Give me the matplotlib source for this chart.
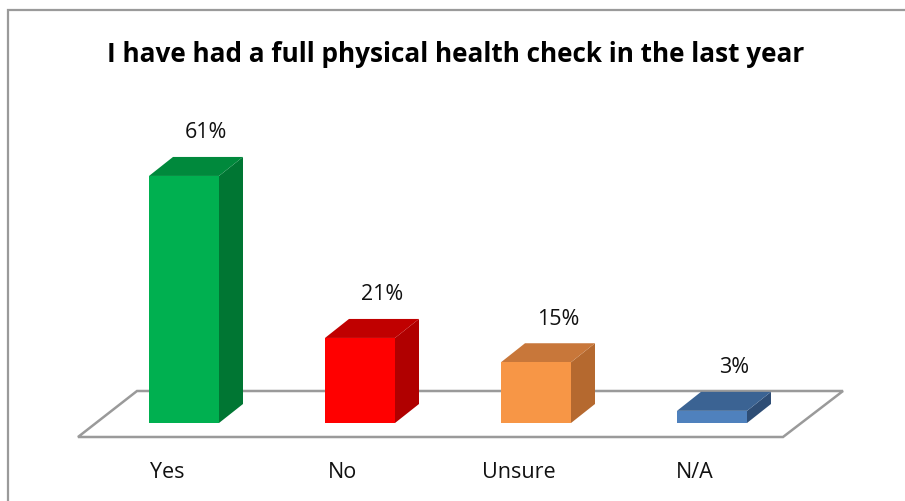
import matplotlib
matplotlib.use("Agg")
import matplotlib.pyplot as plt
from matplotlib.patches import Polygon, Rectangle

# --- Data ---
categories = ["Yes", "No", "Unsure", "N/A"]
values = [61, 21, 15, 3]
labels = ["61%", "21%", "15%", "3%"]

# --- Colours (front, side, top) ---
front_cols = ["#00B050", "#FF0000", "#F79646", "#4F81BD"]
side_cols = ["#007633", "#B00000", "#B5692F", "#2E4D75"]
top_cols = ["#00893C", "#C00000", "#C8773A", "#3B6393"]

# --- Layout in pixels ---
W, H = 905, 501
x0_px, step_px = 184, 176      # first category centre, spacing
base_px = 423                  # pixel row (from top) of value 0
px_per_pct = 4.05
half_w = 35
depth_dx, depth_dy = 24, 19

fig = plt.figure(figsize=(W / 100, H / 100), dpi=100)
ax = fig.add_axes([0, 0, 1, 1])
ax.set_xlim(-x0_px / step_px, (W - x0_px) / step_px)
ax.set_ylim(-(H - base_px) / px_per_pct, base_px / px_per_pct)
ax.axis("off")

def dx(px):
    return px / step_px

def dy(px):
    return px / px_per_pct

def px_x(p):
    return (p - x0_px) / step_px

def px_y(p):
    return (base_px - p) / px_per_pct

# floor
floor = [(px_x(78), px_y(437)), (px_x(783), px_y(437)),
         (px_x(843), px_y(391)), (px_x(137), px_y(391))]
ax.add_patch(Polygon(floor, closed=True, facecolor="white",
                     edgecolor="#9A9A9A", lw=1.8, zorder=1))

for i, (v, f, s, t) in enumerate(zip(values, front_cols, side_cols, top_cols)):
    l, r = i - dx(half_w), i + dx(half_w)
    ox, oy = dx(depth_dx), dy(depth_dy)
    side = [(r, 0), (r + ox, oy), (r + ox, v + oy), (r, v)]
    top = [(l, v), (r, v), (r + ox, v + oy), (l + ox, v + oy)]
    ax.add_patch(Polygon(side, closed=True, facecolor=s, edgecolor="none", zorder=3))
    ax.add_patch(Polygon(top, closed=True, facecolor=t, edgecolor="none", zorder=3))
    ax.add_patch(Rectangle((l, 0), r - l, v, facecolor=f, edgecolor="none", zorder=4))
    ax.text(i + dx(22), v + oy + dy(24), labels[i], ha="center", va="center",
            fontsize=15.5, family="Open Sans", color="#111111")
    ax.text(i - dx(17), px_y(472), categories[i], ha="center", va="center",
            fontsize=15.5, family="Open Sans", color="#111111")

fig.text(456 / W, 1 - 55 / H, "I have had a full physical health check in the last year",
         ha="center", va="center", fontsize=18.8, fontweight="bold", family="Open Sans")

# chart border
fig.patches.append(Rectangle((8 / W, -0.05), 1.2, 1 - 10 / H + 0.05, transform=fig.transFigure,
                             facecolor="none", edgecolor="#9A9A9A", lw=1.6))

fig.savefig("out.png", dpi=100)
